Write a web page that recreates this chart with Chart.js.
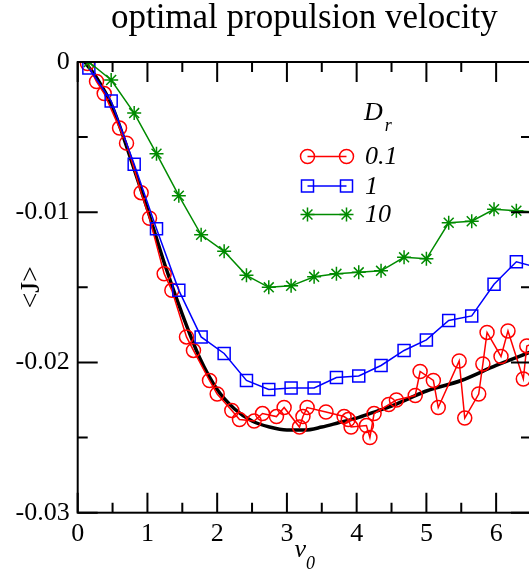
<!DOCTYPE html>
<html><head><meta charset="utf-8">
<script src="https://cdn.jsdelivr.net/npm/chart.js@4/dist/chart.umd.min.js"></script>
<style>
html,body{margin:0;padding:0;overflow:hidden;background:#fff;width:529px;height:575px}
#wrap{position:absolute;left:0;top:0;width:532px;height:575px}
</style>
</head><body>
<div id="wrap"><canvas id="c" width="532" height="575"></canvas></div>
<script>
// ---------- data ----------
const titleText = 'optimal propulsion velocity';
const xAxisMain = 'v', xAxisSub = '0';
const yAxisLabel = '<J>';
const legendMain = 'D', legendSub = 'r';
const seriesNames = ['0.1', '1', '10'];

const xMajorTicks = [0, 1, 2, 3, 4, 5, 6];
const xTickLabels = ['0', '1', '2', '3', '4', '5', '6'];
const yMajorTicks = [-0.03, -0.02, -0.01, 0];
const yTickLabels = ['-0.03', '-0.02', '-0.01', '0'];

// D_r = 10 and D_r = 1 share the coarse v0 grid
const vCoarse = [0.16,0.48,0.81,1.13,1.45,1.77,2.10,2.42,2.74,3.06,3.39,3.71,4.03,4.35,4.68,5.00,5.32,5.65,5.97,6.29,6.61];
const J_Dr10 = [0,-0.0012,-0.0034,-0.0061,-0.0089,-0.0115,-0.0126,-0.0142,-0.0150,-0.0149,-0.0143,-0.0141,-0.0140,-0.0139,-0.0130,-0.0131,-0.0107,-0.0106,-0.0098,-0.0099,-0.0100];
const J_Dr1  = [-0.0004,-0.0026,-0.0068,-0.0111,-0.0152,-0.0183,-0.0194,-0.0212,-0.0218,-0.0217,-0.0217,-0.0210,-0.0209,-0.0202,-0.0192,-0.0185,-0.0172,-0.0169,-0.0148,-0.0133,-0.0137];

// D_r = 0.1
const vFine = [0.14,0.27,0.38,0.60,0.70,0.91,1.03,1.24,1.35,1.56,1.66,1.89,2.00,2.21,2.32,2.53,2.65,2.85,2.96,3.18,3.23,3.29,3.56,3.82,3.88,3.92,4.14,4.19,4.25,4.46,4.57,4.84,4.91,5.10,5.17,5.47,5.55,5.75,5.81,5.87,6.07,6.17,6.39,6.44,6.60];
const J_Dr01 = [-0.0001,-0.0013,-0.0021,-0.0044,-0.0054,-0.0087,-0.0104,-0.0141,-0.0152,-0.0183,-0.0192,-0.0212,-0.0221,-0.0232,-0.0238,-0.0239,-0.0234,-0.0236,-0.0230,-0.0243,-0.0236,-0.0230,-0.0233,-0.0236,-0.0238,-0.0243,-0.0242,-0.0250,-0.0234,-0.0228,-0.0225,-0.0222,-0.0206,-0.0212,-0.0230,-0.0199,-0.0237,-0.0221,-0.0201,-0.0180,-0.0196,-0.0179,-0.0211,-0.0189,-0.0186];

// optimal curve (black)
const vTheory = [0.1,0.25,0.5,0.75,1.0,1.25,1.5,1.75,2.0,2.25,2.5,2.75,3.0,3.25,3.5,3.75,4.0,4.25,4.5,4.75,5.0,5.5,6.0,6.5];
const J_theory = [0,-0.0009,-0.0030,-0.0063,-0.0098,-0.0135,-0.0168,-0.0197,-0.0218,-0.0231,-0.0239,-0.0243,-0.0245,-0.0245,-0.0243,-0.0240,-0.0237,-0.0233,-0.0229,-0.0224,-0.0219,-0.0212,-0.0202,-0.0193];

// ---------- build ----------
const pts = (xs, ys) => xs.map((x, i) => ({x, y: ys[i]}));
const SERIF = "'Liberation Serif','Times New Roman',serif";
const RED = '#ff0000', BLUE = '#0000ff', GREEN = '#008b00';

const datasets = [
  {label: 'theory', data: pts(vTheory, J_theory), borderColor: '#000', borderWidth: 3.5,
   pointRadius: 0, cubicInterpolationMode: 'monotone', order: 4},
  {label: seriesNames[0], data: pts(vFine, J_Dr01), borderColor: RED, borderWidth: 1.5,
   pointStyle: 'circle', pointRadius: 7, pointBorderWidth: 1.5, pointBorderColor: RED,
   pointBackgroundColor: 'rgba(0,0,0,0)', order: 3},
  {label: seriesNames[1], data: pts(vCoarse, J_Dr1), borderColor: BLUE, borderWidth: 1.5,
   pointStyle: 'rect', pointRadius: 8.5, pointBorderWidth: 1.5, pointBorderColor: BLUE,
   pointBackgroundColor: 'rgba(0,0,0,0)', order: 2},
  {label: seriesNames[2], data: pts(vCoarse, J_Dr10), borderColor: GREEN, borderWidth: 1.5,
   pointStyle: 'star', pointRadius: 7, pointBorderWidth: 1.5, pointBorderColor: GREEN,
   pointBackgroundColor: 'rgba(0,0,0,0)', order: 1}
];

function marker(ctx, style, r, x, y) {
  ctx.beginPath();
  if (style === 'circle') { ctx.arc(x, y, r, 0, Math.PI * 2); }
  else if (style === 'rect') { const s = r / Math.SQRT2; ctx.rect(x - s, y - s, 2 * s, 2 * s); }
  else if (style === 'star') {
    for (let k = 0; k < 4; k++) { const a = k * Math.PI / 4;
      ctx.moveTo(x + Math.cos(a) * r, y + Math.sin(a) * r);
      ctx.lineTo(x - Math.cos(a) * r, y - Math.sin(a) * r); }
  }
  ctx.stroke();
}

const decor = {
  id: 'decor',
  afterDraw(chart) {
    const {ctx, chartArea: a, scales: {x, y}} = chart;
    ctx.save();
    ctx.strokeStyle = '#000'; ctx.lineWidth = 2;
    ctx.strokeRect(a.left, a.top, a.right - a.left, a.bottom - a.top);
    // ticks (inward, all four sides)
    const MAJ = 20, MIN = 10;
    const xMinor = xMajorTicks.map(v => v + 0.5);
    const yMinor = yMajorTicks.slice(0, -1).map(v => v + 0.005);
    ctx.beginPath();
    const xt = (v, L) => { const p = x.getPixelForValue(v); if (p > a.right) return;
      ctx.moveTo(p, a.bottom); ctx.lineTo(p, a.bottom - L); ctx.moveTo(p, a.top); ctx.lineTo(p, a.top + L); };
    const yt = (v, L) => { const p = y.getPixelForValue(v);
      ctx.moveTo(a.left, p); ctx.lineTo(a.left + L, p); ctx.moveTo(a.right, p); ctx.lineTo(a.right - L, p); };
    xMajorTicks.forEach(v => xt(v, MAJ)); xMinor.forEach(v => xt(v, MIN));
    yMajorTicks.forEach(v => yt(v, MAJ)); yMinor.forEach(v => yt(v, MIN));
    ctx.stroke();

    ctx.fillStyle = '#000';
    // title
    ctx.font = '35px ' + SERIF; ctx.textAlign = 'center'; ctx.textBaseline = 'alphabetic';
    ctx.fillText(titleText, (a.left + a.right) / 2, 28);
    // x axis title  v_0
    const cx = (a.left + a.right) / 2;
    ctx.font = 'italic 26px ' + SERIF; ctx.textAlign = 'left';
    const vw = ctx.measureText(xAxisMain).width;
    ctx.fillText(xAxisMain, cx - vw / 2 - 4, 557);
    ctx.font = 'italic 18px ' + SERIF;
    ctx.fillText(xAxisSub, cx + vw / 2 - 4, 569);
    // y axis title
    ctx.save(); ctx.translate(32, (a.top + a.bottom) / 2); ctx.rotate(-Math.PI / 2);
    ctx.font = '28px ' + SERIF; ctx.textAlign = 'center'; ctx.textBaseline = 'middle';
    ctx.fillText(yAxisLabel, 0, 0); ctx.restore();

    // legend
    ctx.font = 'italic 26px ' + SERIF; ctx.textAlign = 'left'; ctx.textBaseline = 'alphabetic';
    ctx.fillText(legendMain, 364, 120);
    const dw = ctx.measureText(legendMain).width;
    ctx.font = 'italic 18px ' + SERIF;
    ctx.fillText(legendSub, 364 + dw + 2, 131);
    const rowsY = [156.5, 186, 214.5];
    [1, 2, 3].forEach((di, k) => {
      const ds = chart.data.datasets[di]; const yy = rowsY[k];
      ctx.strokeStyle = ds.borderColor; ctx.lineWidth = ds.borderWidth;
      ctx.beginPath(); ctx.moveTo(307.5, yy); ctx.lineTo(346.5, yy); ctx.stroke();
      ctx.lineWidth = ds.pointBorderWidth;
      marker(ctx, ds.pointStyle, ds.pointRadius, 307.5, yy);
      marker(ctx, ds.pointStyle, ds.pointRadius, 346.5, yy);
      ctx.fillStyle = '#000'; ctx.font = 'italic 26px ' + SERIF; ctx.textBaseline = 'middle';
      ctx.fillText(ds.label, 365, yy + 1);
    });
    ctx.restore();
  }
};

new Chart(document.getElementById('c'), {
  type: 'line',
  data: {datasets},
  options: {
    responsive: false, animation: false, events: [],
    layout: {autoPadding: false, padding: {top: 62, right: 1, left: 0, bottom: 0}},
    plugins: {legend: {display: false}, tooltip: {enabled: false}, title: {display: false}},
    scales: {
      x: {type: 'linear', min: 0, max: 6.5,
        grid: {display: false, drawTicks: false}, border: {display: false},
        afterBuildTicks: s => { s.ticks = xMajorTicks.map(v => ({value: v})); },
        afterFit: s => { s.height = 62.3; s.paddingLeft = 0; s.paddingRight = 0; },
        ticks: {padding: 6, color: '#000', font: {family: SERIF, size: 26},
          callback: (v, i) => xTickLabels[i], maxRotation: 0, autoSkip: false}},
      y: {type: 'linear', min: -0.03, max: 0,
        grid: {display: false, drawTicks: false}, border: {display: false},
        afterBuildTicks: s => { s.ticks = yMajorTicks.map(v => ({value: v})); },
        afterFit: s => { s.width = 77.7; },
        ticks: {padding: 8, color: '#000', font: {family: SERIF, size: 26},
          callback: (v, i) => yTickLabels[i], autoSkip: false}}
    }
  },
  plugins: [decor]
});
</script>
</body></html>
